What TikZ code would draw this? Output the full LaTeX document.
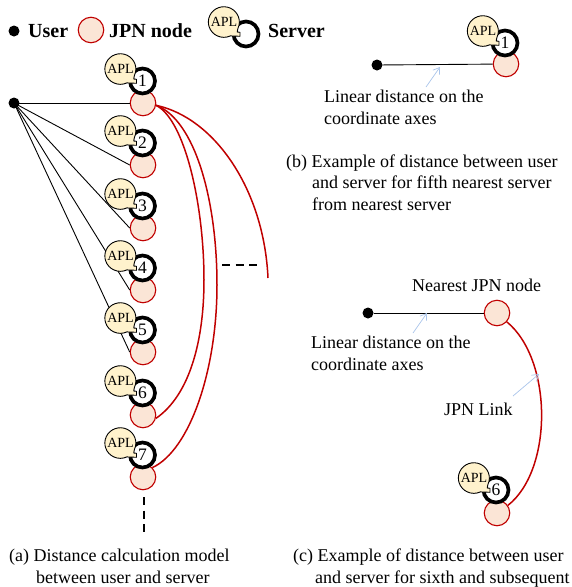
\documentclass[tikz,border=0pt]{standalone}
\usepackage{fontspec}
\setmainfont{Liberation Serif}
\usetikzlibrary{arrows.meta}
\definecolor{jpnred}{HTML}{C00000}
\definecolor{jpnfill}{HTML}{FBE5D6}
\definecolor{aplfill}{HTML}{FFF2CC}
\definecolor{hintblue}{HTML}{A9C4EA}
\tikzset{
  userdot/.style={circle,fill=black,inner sep=0pt,minimum size=11pt},
  jpnnode/.style={circle,draw=jpnred,fill=jpnfill,line width=1.1pt,inner sep=0pt,minimum size=25.5pt},
  ringnode/.style={circle,draw=black,fill=white,line width=3.7pt,inner sep=0pt,minimum size=25pt,font=\fontsize{17.5}{18}\selectfont},
  apltext/.style={inner sep=0pt,font=\fontsize{14}{16}\selectfont},
  aplshape/.style={draw=black,fill=aplfill,line width=0.9pt,line join=round},
  distline/.style={draw=black,line width=0.9pt},
  jpnlink/.style={draw=jpnred,line width=1.5pt},
  hint/.style={draw=hintblue,line width=0.7pt,-{Straight Barb[length=6pt,width=8pt]}},
  lbl/.style={anchor=base west,inner sep=0pt,font=\fontsize{18}{20}\selectfont},
  boldlbl/.style={lbl,font=\fontsize{20}{22}\selectfont\bfseries},
  gap/.style={draw=black,line width=2pt,dash pattern=on 8pt off 5.5pt}
}
% #1 name, #2 ring x, #3 ring y, #4 digit
\newcommand{\srvpair}[4]{%
  \node[ringnode] (#1r) at (#2,#3) {#4};
  \begin{scope}[shift={(#2-22,#3-12)}]
    \draw[aplshape] (13.9,6.5) arc[start angle=25,end angle=-295,x radius=15.5,y radius=15.3] -- (16,14.3) -- (16,10.3) -- (13.2,10) -- cycle;
    \node[apltext] (#1a) at (0,0) {APL};
  \end{scope}
}
\begin{document}
\begin{tikzpicture}[x=1pt,y=-1pt]
\useasboundingbox (0,0) rectangle (572,587);
% legend
\node[userdot] (legu) at (14,31) {};
\node[boldlbl] (legut) at (28,37) {User};
\node[jpnnode] (legj) at (91,30) {};
\node[boldlbl] (legjt) at (109,37) {JPN node};
\srvpair{leg}{246}{34}{}
\node[boldlbl] (legst) at (268,37) {Server};
% (a)
\node[userdot] (ua) at (14,103) {};
\foreach \n/\y in {1/103,2/165,3/228,4/290,5/352,6/415,7/477}{
  \node[jpnnode] (j\n) at (143,\y) {};
}
\foreach \n in {1,...,5}{ \draw[distline] (ua.center) -- (j\n.west); }
\coordinate (freeend) at (268,278);
\coordinate (peak6) at (204,280);
\coordinate (peak7) at (217,285);
\draw[jpnlink] (j1.-10) .. controls (215,118) and (264,190) .. (freeend);
\draw[jpnlink] (j1.-10) .. controls (185,120) and (204,205) .. (peak6) .. controls (204,340) and (190,395) .. (j6.-15);
\draw[jpnlink] (j1.-10) .. controls (195,120) and (217,200) .. (peak7) .. controls (217,370) and (190,450) .. (j7.45);
\foreach \n/\y in {1/81,2/143,3/206,4/268,5/330,6/393,7/455}{
  \srvpair{s\n}{142.5}{\y}{\n}
}
\coordinate (gapa) at (222,264.5); \coordinate (gapb) at (258,264.5);
\draw[gap] (gapa) -- (gapb);
\coordinate (gapc) at (144,497); \coordinate (gapd) at (144,533);
\draw[gap] (gapc) -- (gapd);
\node[lbl] (capa1) at (9,561) {(a) Distance calculation model};
\node[lbl] (capa2) at (36,583) {between user and server};
% (b)
\node[userdot] (ub) at (377,65) {};
\node[jpnnode] (jb) at (506,64) {};
\draw[distline] (ub) -- (jb);
\srvpair{sb}{505}{43}{1}
\coordinate (hb1) at (426,87); \coordinate (hb2) at (440,67);
\draw[hint] (hb1) -- (hb2);
\node[lbl] (tb1) at (324,102) {Linear distance on the};
\node[lbl] (tb2) at (324,124) {coordinate axes};
\node[lbl] (capb1) at (286,167) {(b) Example of distance between user};
\node[lbl] (capb2) at (312,188) {and server for fifth nearest server};
\node[lbl] (capb3) at (312,210) {from nearest server};
% (c)
\node[userdot] (uc) at (368,313) {};
\node[jpnnode] (jc1) at (497,313) {};
\draw[distline] (uc) -- (jc1);
\node[jpnnode] (jc2) at (497,513) {};
\draw[jpnlink] (jc1.-42) .. controls (553,360) and (553,470) .. (jc2.35);
\srvpair{sc}{496}{490}{6}
\coordinate (hc1) at (413,333); \coordinate (hc2) at (427,313);
\draw[hint] (hc1) -- (hc2);
\coordinate (hc3) at (513,396); \coordinate (hc4) at (539,374);
\draw[hint] (hc3) -- (hc4);
\node[lbl] (tc0) at (412,291) {Nearest JPN node};
\node[lbl] (tc1) at (311,348) {Linear distance on the};
\node[lbl] (tc2) at (311,370) {coordinate axes};
\node[lbl] (tc3) at (444,415) {JPN Link};
\node[lbl] (capc1) at (293,561) {(c) Example of distance between user};
\node[lbl] (capc2) at (315,583) {and server for sixth and subsequent};
\end{tikzpicture}
\end{document}
